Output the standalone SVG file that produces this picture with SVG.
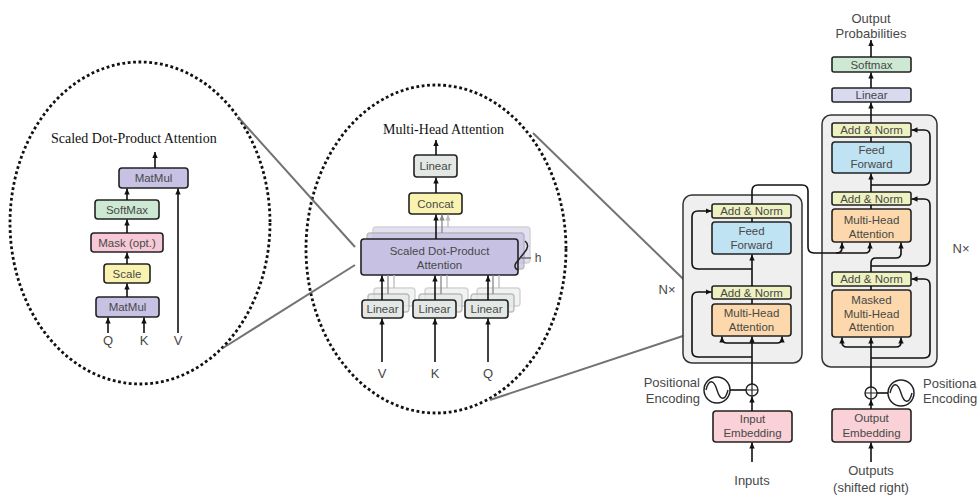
<svg xmlns="http://www.w3.org/2000/svg" width="977" height="501" viewBox="0 0 977 501">
  <defs>
    <marker id="arr" markerUnits="userSpaceOnUse" markerWidth="7" markerHeight="7" refX="6" refY="3.5" orient="auto">
      <path d="M0,0.8 L6,3.5 L0,6.2 z" fill="#111"/>
    </marker>
    <marker id="arrg" markerUnits="userSpaceOnUse" markerWidth="7" markerHeight="7" refX="6" refY="3.5" orient="auto">
      <path d="M0,0.8 L6,3.5 L0,6.2 z" fill="#888"/>
    </marker>
    <marker id="arrl" markerUnits="userSpaceOnUse" markerWidth="7" markerHeight="7" refX="6" refY="3.5" orient="auto">
      <path d="M0,0.8 L6,3.5 L0,6.2 z" fill="#bbb"/>
    </marker>
  </defs>
  <style>
    .box{stroke:#222;stroke-width:1.6}
    .ghost{stroke:#a8a8a8;stroke-width:1.4}
    .lbl{font-family:"Liberation Sans",Arial,sans-serif;font-size:11.5px;fill:#484848;text-anchor:middle}
    .io{font-family:"Liberation Sans",Arial,sans-serif;font-size:13px;fill:#484848;text-anchor:middle}
    .ttl{font-family:"Liberation Serif","Times New Roman",serif;font-size:14px;fill:#111}
    .w{fill:none;stroke:#111;stroke-width:1.6}
    .g{fill:none;stroke:#888;stroke-width:1.3}
    .l{fill:none;stroke:#bbb;stroke-width:1.3}
    .a{marker-end:url(#arr)}
    .dot{fill:none;stroke:#111;stroke-width:2.8;stroke-dasharray:2.8 2.6}
    .call{fill:none;stroke:#5a5a5a;stroke-width:2;stroke-opacity:.85}
    .purple{fill:#c7c2e4}
    .green{fill:#cde8d3}
    .pink{fill:#f7c8d7}
    .yellow{fill:#faf3b0}
    .gray{fill:#e3e8e5}
    .norm{fill:#eef2c0}
    .ff{fill:#c0e3f3}
    .att{fill:#fcd8ac}
    .emb{fill:#f9d1d7}
    .lin{fill:#d9d9f0}
    .stack{fill:#efefef;stroke:#333;stroke-width:1.5}
  </style>

  <!-- zoom ellipses and callout lines -->
  <g id="callouts">
    <ellipse class="dot" cx="140" cy="223" rx="130" ry="161"/>
    <ellipse class="dot" cx="436" cy="249" rx="130" ry="164"/>
    <path class="call" d="M238 117 L355 247"/>
    <path class="call" d="M223 348 L355 265"/>
    <path class="call" d="M533 133 L710 305"/>
    <path class="call" d="M490 400 L710 327"/>
  </g>

  <!-- Scaled dot-product attention -->
  <g id="sdpa">
    <text class="ttl" x="51" y="143">Scaled Dot-Product Attention</text>
    <g id="sdpa-matmul-top"><rect class="box purple" x="119" y="168" width="69" height="20" rx="3"/><text class="lbl" x="153.5" y="182">MatMul</text></g>
    <g id="sdpa-softmax"><rect class="box green" x="95" y="200" width="64" height="19" rx="3"/><text class="lbl" x="127" y="213.5">SoftMax</text></g>
    <g id="sdpa-mask"><rect class="box pink" x="91" y="233" width="72" height="19" rx="3"/><text class="lbl" x="127" y="246.5">Mask (opt.)</text></g>
    <g id="sdpa-scale"><rect class="box yellow" x="104" y="264" width="46" height="19" rx="3"/><text class="lbl" x="127" y="277.5">Scale</text></g>
    <g id="sdpa-matmul-bottom"><rect class="box purple" x="96" y="297" width="63" height="20" rx="3"/><text class="lbl" x="127.5" y="311">MatMul</text></g>
    <text class="io" x="108" y="345">Q</text>
    <text class="io" x="144" y="345">K</text>
    <text class="io" x="178" y="345">V</text>
  </g>

  <!-- Multi-head attention -->
  <g id="mha">
    <text class="ttl" x="383" y="134">Multi-Head Attention</text>
    <g id="mha-linear-out"><rect class="box gray" x="414" y="155" width="43" height="22" rx="3"/><text class="lbl" x="435.5" y="170">Linear</text></g>
    <g id="mha-concat"><rect class="box yellow" x="409" y="193" width="53" height="21" rx="3"/><text class="lbl" x="435.5" y="207.5">Concat</text></g>
    <g id="mha-sdpa">
      <rect class="ghost purple" x="373" y="227" width="157" height="36" rx="3" opacity=".5"/>
      <rect class="ghost purple" x="367" y="233" width="157" height="36" rx="3" opacity=".75"/>
      <rect class="box purple" x="361" y="239" width="157" height="36" rx="3"/>
      <text class="lbl" x="439.5" y="254.5">Scaled Dot-Product</text>
      <text class="lbl" x="439.5" y="268.5">Attention</text>
      <path d="M525 241 C529 244 528 249 524 253 L516 263 C514 266 515 269 518 270" fill="none" stroke="#222" stroke-width="1.5"/>
      <path d="M521 258 H531" fill="none" stroke="#555" stroke-width="1.2"/>
      <text class="lbl" x="538" y="262" style="font-size:12px">h</text>
    </g>
    <g id="mha-linear-v">
      <rect class="ghost gray" x="374" y="288" width="41" height="18" rx="3" opacity=".5"/>
      <rect class="ghost gray" x="368" y="294" width="41" height="18" rx="3" opacity=".75"/>
      <rect class="box gray" x="362" y="300" width="41" height="18" rx="3"/><text class="lbl" x="382.5" y="313">Linear</text>
    </g>
    <g id="mha-linear-k">
      <rect class="ghost gray" x="425" y="288" width="43" height="18" rx="3" opacity=".5"/>
      <rect class="ghost gray" x="419" y="294" width="43" height="18" rx="3" opacity=".75"/>
      <rect class="box gray" x="413" y="300" width="43" height="18" rx="3"/><text class="lbl" x="434.5" y="313">Linear</text>
    </g>
    <g id="mha-linear-q">
      <rect class="ghost gray" x="477" y="288" width="43" height="18" rx="3" opacity=".5"/>
      <rect class="ghost gray" x="471" y="294" width="43" height="18" rx="3" opacity=".75"/>
      <rect class="box gray" x="465" y="300" width="43" height="18" rx="3"/><text class="lbl" x="486.5" y="313">Linear</text>
    </g>
    <text class="io" x="382" y="378">V</text>
    <text class="io" x="435" y="378">K</text>
    <text class="io" x="488" y="378">Q</text>
  </g>

  <!-- Encoder stack -->
  <g id="encoder">
    <rect class="stack" x="683" y="195" width="119" height="168" rx="9"/>
    <text class="io" x="667" y="293.5">N×</text>
    <g id="enc-norm-2"><rect class="box norm" x="712" y="204" width="79" height="14" rx="2"/><text class="lbl" x="751.5" y="215">Add &amp; Norm</text></g>
    <g id="enc-ff"><rect class="box ff" x="712" y="222" width="79" height="32" rx="3"/><text class="lbl" x="751.5" y="235">Feed</text><text class="lbl" x="751.5" y="248.5">Forward</text></g>
    <g id="enc-norm-1"><rect class="box norm" x="712" y="286" width="79" height="13" rx="2"/><text class="lbl" x="751.5" y="296.5">Add &amp; Norm</text></g>
    <g id="enc-att"><rect class="box att" x="712" y="304" width="79" height="32" rx="3"/><text class="lbl" x="751.5" y="317">Multi-Head</text><text class="lbl" x="751.5" y="330.5">Attention</text></g>
    <g id="enc-pos">
      <circle cx="752" cy="390" r="6" fill="#fff" stroke="#222" stroke-width="1.4"/>
      <path d="M746 390 H758 M752 384 V396" stroke="#222" stroke-width="1.2"/>
      <circle cx="717" cy="390" r="13" fill="#fff" stroke="#222" stroke-width="1.5"/>
      <path d="M706 390 C709 378 714 380 717 390 C720 400 725 402 728 390" fill="none" stroke="#222" stroke-width="1.4"/>
      <text class="io" x="700" y="386.5" style="text-anchor:end">Positional</text>
      <text class="io" x="700" y="402.5" style="text-anchor:end">Encoding</text>
    </g>
    <g id="enc-emb"><rect class="box emb" x="713" y="411" width="79" height="31" rx="3"/><text class="lbl" x="752.5" y="423">Input</text><text class="lbl" x="752.5" y="437">Embedding</text></g>
    <text class="io" x="752" y="484.5">Inputs</text>
  </g>

  <!-- Decoder stack -->
  <g id="decoder">
    <text class="io" x="871" y="22.5">Output</text>
    <text class="io" x="871" y="37.5">Probabilities</text>
    <g id="dec-softmax"><rect class="box green" x="832" y="57" width="79" height="15" rx="2"/><text class="lbl" x="871.5" y="68.5">Softmax</text></g>
    <g id="dec-linear"><rect class="box lin" x="832" y="88" width="79" height="14" rx="2"/><text class="lbl" x="871.5" y="99">Linear</text></g>
    <rect class="stack" x="822" y="115" width="115" height="252" rx="9"/>
    <text class="io" x="961" y="252.5">N×</text>
    <g id="dec-norm-3"><rect class="box norm" x="832" y="123" width="79" height="14" rx="2"/><text class="lbl" x="871.5" y="134">Add &amp; Norm</text></g>
    <g id="dec-ff"><rect class="box ff" x="832" y="142" width="79" height="31" rx="3"/><text class="lbl" x="871.5" y="154">Feed</text><text class="lbl" x="871.5" y="168">Forward</text></g>
    <g id="dec-norm-2"><rect class="box norm" x="832" y="192" width="79" height="13" rx="2"/><text class="lbl" x="871.5" y="202.5">Add &amp; Norm</text></g>
    <g id="dec-att"><rect class="box att" x="832" y="209" width="79" height="33" rx="3"/><text class="lbl" x="871.5" y="224">Multi-Head</text><text class="lbl" x="871.5" y="237.5">Attention</text></g>
    <g id="dec-norm-1"><rect class="box norm" x="832" y="272" width="79" height="14" rx="2"/><text class="lbl" x="871.5" y="283">Add &amp; Norm</text></g>
    <g id="dec-masked"><rect class="box att" x="832" y="290" width="79" height="47" rx="3"/><text class="lbl" x="871.5" y="304">Masked</text><text class="lbl" x="871.5" y="317.5">Multi-Head</text><text class="lbl" x="871.5" y="331">Attention</text></g>
    <g id="dec-pos">
      <circle cx="871" cy="393" r="6" fill="#fff" stroke="#222" stroke-width="1.4"/>
      <path d="M865 393 H877 M871 387 V399" stroke="#222" stroke-width="1.2"/>
      <circle cx="901" cy="393" r="13" fill="#fff" stroke="#222" stroke-width="1.5"/>
      <path d="M890 393 C893 381 898 383 901 393 C904 403 909 405 912 393" fill="none" stroke="#222" stroke-width="1.4"/>
      <text class="io" x="923" y="387.5" style="text-anchor:start">Positiona</text>
      <text class="io" x="923" y="402.5" style="text-anchor:start">Encoding</text>
    </g>
    <g id="dec-emb"><rect class="box emb" x="832" y="409" width="79" height="33" rx="3"/><text class="lbl" x="871.5" y="422">Output</text><text class="lbl" x="871.5" y="436.5">Embedding</text></g>
    <text class="io" x="871" y="474.5">Outputs</text>
    <text class="io" x="871" y="492">(shifted right)</text>
  </g>

  <!-- connectors -->
  <g id="connectors">
    <!-- scaled dot-product attention -->
    <path class="w a" d="M108 333 V317.5"/>
    <path class="w a" d="M144 333 V317.5"/>
    <path class="w a" d="M178 333 V188.5"/>
    <path class="w a" d="M127 297 V283.5"/>
    <path class="w a" d="M127 264 V252.5"/>
    <path class="w a" d="M127 233 V219.5"/>
    <path class="w a" d="M127 200 V188.5"/>
    <path class="w a" d="M155 168 V152"/>

    <!-- multi-head attention -->
    <path class="w a" d="M382 362 V318.5"/>
    <path class="w a" d="M435 362 V318.5"/>
    <path class="w a" d="M488 362 V318.5"/>
    <path class="g" d="M388 294 V275 M441 294 V275 M493 294 V275"/>
    <path class="l" d="M394 288 V275 M447 288 V275 M499 288 V275"/>
    <path class="w a" d="M382 300 V275.5"/>
    <path class="w a" d="M435 300 V275.5"/>
    <path class="w a" d="M488 300 V275.5"/>
    <path class="g" d="M442 233 V214.5" marker-end="url(#arrg)"/>
    <path class="l" d="M448 227 V214.5" marker-end="url(#arrl)"/>
    <path class="w a" d="M436 239 V214.5"/>
    <path class="w a" d="M436 193 V177.5"/>
    <path class="w a" d="M436 155 V140"/>

    <!-- encoder -->
    <path class="w a" d="M752 462 V442.5"/>
    <path class="w a" d="M752 411 V396.5"/>
    <path class="w" d="M730 390 H746"/>
    <path class="w a" d="M752 384 V336.5"/>
    <path class="w a" d="M752 343 H727 Q722 343 722 338 V336.5"/>
    <path class="w a" d="M752 343 H777 Q782 343 782 338 V336.5"/>
    <path class="w" d="M752 304 V299"/>
    <path class="w a" d="M752 357 H698 Q692 357 692 351 V298 Q692 292 698 292 H711.5"/>
    <path class="w a" d="M752 286 V254.5"/>
    <path class="w" d="M752 222 V218"/>
    <path class="w a" d="M752 269 H698 Q692 269 692 263 V217 Q692 211 698 211 H711.5"/>
    <path class="w a" d="M752 204 V191 Q752 185 758 185 H802 Q808 185 808 191 V247 Q808 253 814 253 H865 Q870 253 870 248 V242.5"/>
    <path class="w a" d="M836 253 Q842 253 842 248 V242.5"/>

    <!-- decoder -->
    <path class="w a" d="M871 462 V442.5"/>
    <path class="w a" d="M871 409 V399.5"/>
    <path class="w" d="M877 393 H888"/>
    <path class="w a" d="M871 387 V337.5"/>
    <path class="w a" d="M871 347 H847 Q842 347 842 342 V337.5"/>
    <path class="w a" d="M871 347 H896 Q901 347 901 342 V337.5"/>
    <path class="w a" d="M871 358 H924 Q930 358 930 352 V285 Q930 279 924 279 H911.5"/>
    <path class="w" d="M871 290 V286"/>
    <path class="w a" d="M871 272 V263 Q871 258 876 258 H896 Q901 258 901 253 V242.5"/>
    <path class="w a" d="M871 266 H924 Q930 266 930 260 V205 Q930 199 924 199 H911.5"/>
    <path class="w" d="M871 209 V205"/>
    <path class="w a" d="M871 192 V173.5"/>
    <path class="w a" d="M871 185 H924 Q930 185 930 179 V136 Q930 130 924 130 H911.5"/>
    <path class="w" d="M871 142 V137"/>
    <path class="w a" d="M871 123 V102.5"/>
    <path class="w a" d="M871 88 V72.5"/>
    <path class="w a" d="M871 57 V40"/>
  </g>
</svg>
